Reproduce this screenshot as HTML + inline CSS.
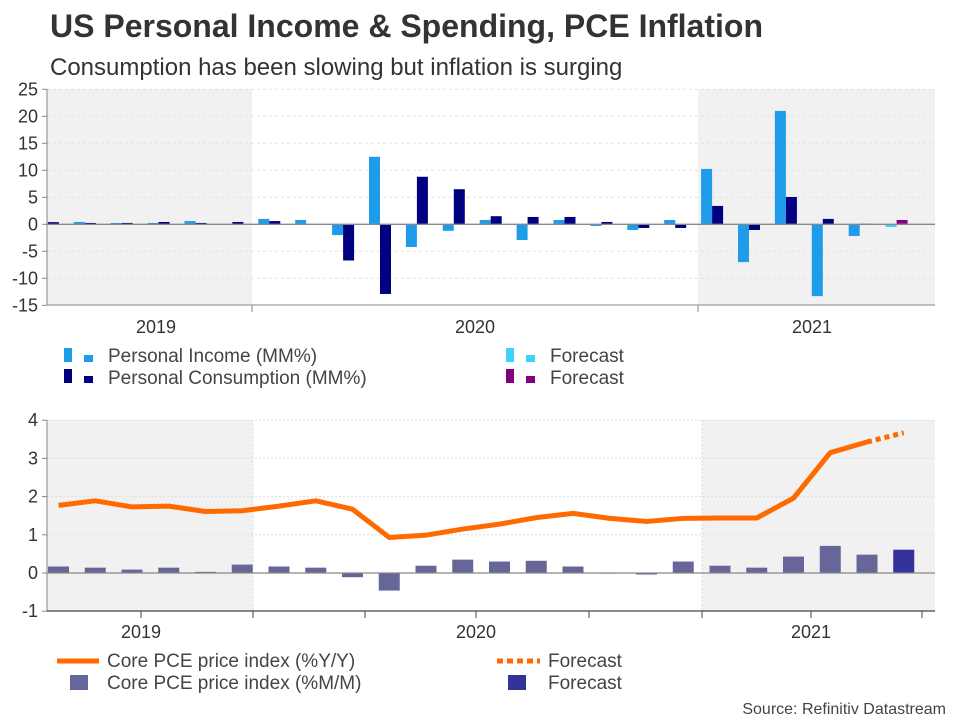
<!DOCTYPE html>
<html><head><meta charset="utf-8">
<style>
body{margin:0;background:#fff;width:960px;height:720px;overflow:hidden;font-family:"Liberation Sans",Arial,sans-serif;}
svg text{font-family:"Liberation Sans",Arial,sans-serif;}
</style></head>
<body>
<svg id="c" width="960" height="720" viewBox="0 0 960 720">
<text x="50" y="37" font-size="32" font-weight="bold" fill="#333">US Personal Income &amp; Spending, PCE Inflation</text>
<text x="50" y="75" font-size="24" fill="#333">Consumption has been slowing but inflation is surging</text>
<g id="topg"></g>
<g id="botg"></g>
<g>
<rect x="64" y="348" width="8" height="14" fill="#1e9be9"/><rect x="84" y="355" width="9" height="7" fill="#1e9be9"/>
<text x="108" y="362" font-size="19" fill="#444">Personal Income (MM%)</text>
<rect x="64" y="369" width="8" height="14" fill="#000080"/><rect x="84" y="376" width="9" height="7" fill="#000080"/>
<text x="108" y="384" font-size="19" fill="#444">Personal Consumption (MM%)</text>
<rect x="506" y="348" width="8" height="14" fill="#3dd3fb"/><rect x="526" y="355" width="9" height="7" fill="#3dd3fb"/>
<text x="550" y="362" font-size="19" fill="#444">Forecast</text>
<rect x="506" y="369" width="8" height="14" fill="#800080"/><rect x="526" y="376" width="9" height="7" fill="#800080"/>
<text x="550" y="384" font-size="19" fill="#444">Forecast</text>
</g>
<g>
<line x1="57" y1="661" x2="99" y2="661" stroke="#ff6a00" stroke-width="5"/>
<text x="107" y="667" font-size="19" fill="#444">Core PCE price index (%Y/Y)</text>
<rect x="70" y="675" width="18" height="15" fill="#666699"/>
<text x="107" y="689" font-size="19" fill="#444">Core PCE price index (%M/M)</text>
<line x1="497" y1="661" x2="540" y2="661" stroke="#ff6a00" stroke-width="5" stroke-dasharray="6,4"/>
<text x="548" y="667" font-size="19" fill="#444">Forecast</text>
<rect x="508" y="675" width="18" height="15" fill="#333399"/>
<text x="548" y="689" font-size="19" fill="#444">Forecast</text>
</g>
<text x="946" y="714" font-size="16" fill="#444" text-anchor="end">Source: Refinitiv Datastream</text>
</svg>
<script>
const NS='http://www.w3.org/2000/svg';
const incomeVals=[null,0.43,0.25,0.25,0.6,0.05,1.0,0.8,-2.0,12.5,-4.2,-1.2,0.8,-2.9,0.8,-0.3,-1.05,0.8,10.25,-7.0,21.0,-13.3,-2.16,-0.5];
const consVals=[0.4,0.25,0.25,0.43,0.25,0.43,0.6,0.06,-6.7,-12.9,8.8,6.5,1.5,1.36,1.36,0.43,-0.68,-0.68,3.4,-1.05,5.06,1.0,0.1,0.8];
const topTicks=[25,20,15,10,5,0,-5,-10,-15];
const yyVals=[1.77,1.89,1.73,1.75,1.61,1.63,1.75,1.89,1.67,0.93,0.99,1.15,1.28,1.45,1.56,1.43,1.35,1.43,1.44,1.44,1.96,3.15,3.43];
const yyForecast=[3.43,3.67];
const mmVals=[0.17,0.14,0.09,0.14,0.03,0.22,0.17,0.14,-0.11,-0.46,0.19,0.35,0.30,0.32,0.17,0.01,-0.04,0.30,0.19,0.14,0.43,0.71,0.48,0.61];
const botTicks=[4,3,2,1,0,-1];
const yearLabels=['2019','2020','2021'];

(function(){
function el(p,t,a){const e=document.createElementNS(NS,t);for(const k in a)e.setAttribute(k,a[k]);p.appendChild(e);return e;}
const L=47,R=935;
const svg=document.getElementById('c');
const defs=el(svg,'defs',{});
const cp=el(defs,'clipPath',{id:'tc'});el(cp,'rect',{x:L,y:80,width:R-L,height:240});
const cp2=el(defs,'clipPath',{id:'bc'});el(cp2,'rect',{x:L,y:410,width:R-L,height:210});
// TOP
const tg=document.getElementById('topg');
const ty=v=>224.3-v*5.4;
el(tg,'rect',{x:L,y:89,width:205,height:216,fill:'#f1f1f1'});
el(tg,'rect',{x:698,y:89,width:R-698,height:216,fill:'#f1f1f1'});
topTicks.forEach(t=>{
 if(t!==0&&t!==-15){const g=el(tg,'line',{x1:L,x2:R,y1:ty(t),y2:ty(t),stroke:'#e2e2e2','stroke-dasharray':'3,3'});
  
  }
 el(tg,'line',{x1:L-5,x2:L,y1:ty(t),y2:ty(t),stroke:'#888'});
 const tx=el(tg,'text',{x:38,y:ty(t)+6,'font-size':18,fill:'#333','text-anchor':'end'});tx.textContent=t;
 
 
});
const tb=el(tg,'g',{'clip-path':'url(#tc)'});
const tx0=i=>47.9+i*36.9;
incomeVals.forEach((v,i)=>{if(v===null)return;const y=ty(v),y0=ty(0);
 const r=el(tb,'rect',{x:tx0(i)-11,y:Math.min(y,y0),width:11,height:Math.abs(y-y0),fill:i===23?'#3dd3fb':'#1e9be9'});
 
 });
consVals.forEach((v,i)=>{const y=ty(v),y0=ty(0);
 const r=el(tb,'rect',{x:tx0(i),y:Math.min(y,y0),width:11,height:Math.abs(y-y0),fill:i===23?'#800080':'#000080'});
 
 });
el(tg,'line',{x1:L,x2:R,y1:ty(0),y2:ty(0),stroke:'#888','stroke-width':1.3});
el(tg,'line',{x1:L,x2:L,y1:89,y2:305,stroke:'#888'});
el(tg,'line',{x1:L,x2:R,y1:305,y2:305,stroke:'#888'});
[252,698].forEach(x=>el(tg,'line',{x1:x,x2:x,y1:305,y2:312,stroke:'#888'}));
[156,475,812].forEach((x,i)=>{const t=el(tg,'text',{x:x,y:333,'font-size':18,fill:'#333','text-anchor':'middle'});t.textContent=yearLabels[i];
 
 });
// BOTTOM
const bg=document.getElementById('botg');
const by=v=>573-v*38.2;
el(bg,'rect',{x:L,y:420,width:206,height:191,fill:'#f1f1f1'});
el(bg,'rect',{x:702,y:420,width:R-702,height:191,fill:'#f1f1f1'});
botTicks.forEach(t=>{
 if(t!==0&&t!==-1){const g=el(bg,'line',{x1:L,x2:R,y1:by(t),y2:by(t),stroke:'#ddd','stroke-dasharray':'2,2'});
  
  }
 el(bg,'line',{x1:L-5,x2:L,y1:by(t),y2:by(t),stroke:'#888'});
 const tx=el(bg,'text',{x:38,y:by(t)+6,'font-size':18,fill:'#333','text-anchor':'end'});tx.textContent=t;
 
 
});
[253,702].forEach(x=>el(bg,'line',{x1:x,x2:x,y1:420,y2:611,stroke:'#ddd','stroke-dasharray':'2,2'}));
const bb=el(bg,'g',{'clip-path':'url(#bc)'});
const bx=i=>58.5+i*36.75;
mmVals.forEach((v,i)=>{const y=by(v),y0=by(0);
 const r=el(bb,'rect',{x:bx(i)-10.5,y:Math.min(y,y0),width:21,height:Math.max(1,Math.abs(y-y0)),fill:i===23?'#333399':'#666699'});
 
 });
el(bg,'line',{x1:L,x2:R,y1:by(0),y2:by(0),stroke:'#888','stroke-width':1.3});
const pl=el(bb,'polyline',{points:yyVals.map((v,i)=>bx(i)+','+by(v)).join(' '),fill:'none',stroke:'#ff6a00','stroke-width':5,'stroke-linejoin':'round'});


const fl=el(bb,'polyline',{points:yyForecast.map((v,i)=>bx(22+i)+','+by(v)).join(' '),fill:'none',stroke:'#ff6a00','stroke-width':5,'stroke-dasharray':'5,4'});


el(bg,'line',{x1:L,x2:L,y1:420,y2:611,stroke:'#888'});
el(bg,'line',{x1:L,x2:R,y1:611,y2:611,stroke:'#444','stroke-width':1.3});
[141,253,365,476,589,702,811,922].forEach(x=>el(bg,'line',{x1:x,x2:x,y1:611,y2:618,stroke:'#444'}));
[141,476,811].forEach((x,i)=>{const t=el(bg,'text',{x:x,y:638,'font-size':18,fill:'#333','text-anchor':'middle'});t.textContent=yearLabels[i];
 
 });
})();
</script>
</body></html>
